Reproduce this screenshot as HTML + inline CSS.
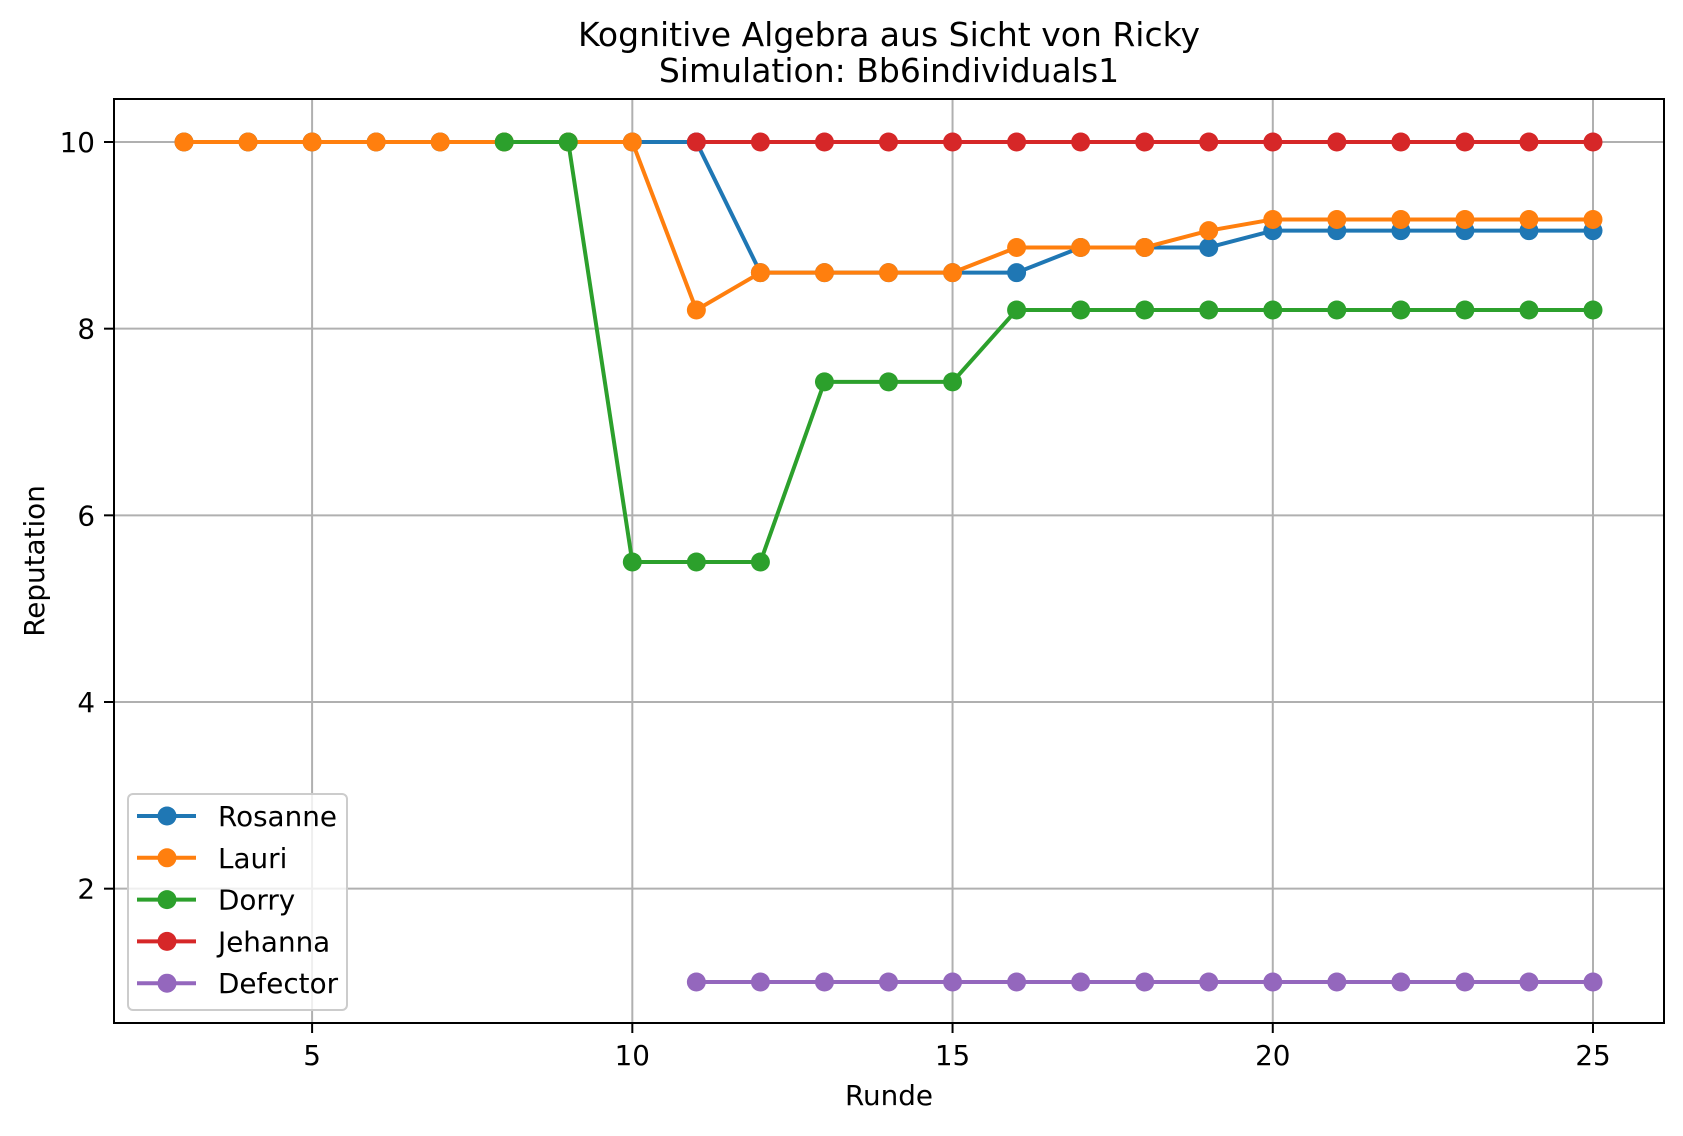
<!DOCTYPE html>
<html><head><meta charset="utf-8"><style>
html,body{margin:0;padding:0;background:#fff}
text{font-family:"DejaVu Sans","Liberation Sans",sans-serif}
</style></head><body>
<svg id="chart" width="1683" height="1131" xmlns="http://www.w3.org/2000/svg">
<rect width="1683" height="1131" fill="#fff"/>
<g id="grid"></g>
<g id="series"></g>
<rect x="114" y="99" width="1550" height="924" fill="none" stroke="#000" stroke-width="2"/>
<g id="ticks"></g>
<text x="889" y="46" font-size="33" text-anchor="middle">Kognitive Algebra aus Sicht von Ricky</text>
<text x="889" y="82" font-size="33" text-anchor="middle">Simulation: Bb6individuals1</text>
<text x="889" y="1105" font-size="27.8" text-anchor="middle">Runde</text>
<text x="44" y="561" font-size="27.8" text-anchor="middle" transform="rotate(-90 44 561)">Reputation</text>
<g id="legend"></g>
</svg>
<script>
const names = ["Rosanne","Lauri","Dorry","Jehanna","Defector"];
const colors = ["#1f77b4","#ff7f0e","#2ca02c","#d62728","#9467bd"];
const rosanneX = [3,4,5,6,7,8,9,10,11,12,13,14,15,16,17,18,19,20,21,22,23,24,25];
const rosanneY = [10,10,10,10,10,10,10,10,10,8.6,8.6,8.6,8.6,8.6,8.87,8.87,8.87,9.05,9.05,9.05,9.05,9.05,9.05];
const lauriX = [3,4,5,6,7,8,9,10,11,12,13,14,15,16,17,18,19,20,21,22,23,24,25];
const lauriY = [10,10,10,10,10,10,10,10,8.2,8.6,8.6,8.6,8.6,8.87,8.87,8.87,9.05,9.17,9.17,9.17,9.17,9.17,9.17];
const dorryX = [8,9,10,11,12,13,14,15,16,17,18,19,20,21,22,23,24,25];
const dorryY = [10,10,5.5,5.5,5.5,7.43,7.43,7.43,8.2,8.2,8.2,8.2,8.2,8.2,8.2,8.2,8.2,8.2];
const jehannaX = [11,12,13,14,15,16,17,18,19,20,21,22,23,24,25];
const jehannaY = [10,10,10,10,10,10,10,10,10,10,10,10,10,10,10];
const defectorX = [11,12,13,14,15,16,17,18,19,20,21,22,23,24,25];
const defectorY = [1,1,1,1,1,1,1,1,1,1,1,1,1,1,1];
const xTicks = [5,10,15,20,25];
const yTicks = [2,4,6,8,10];

const NS="http://www.w3.org/2000/svg";
const L=114,R=1664,T=99,B=1023;
function sx(v){return 184+(v-3)*(1593-184)/22;}
function sy(v){return 142+(10-v)*(982-142)/9;}
function mk(tag,attrs,parent){const e=document.createElementNS(NS,tag);for(const k in attrs)e.setAttribute(k,attrs[k]);parent.appendChild(e);return e;}
const grid=document.getElementById('grid'),ticks=document.getElementById('ticks'),ser=document.getElementById('series'),leg=document.getElementById('legend');
xTicks.forEach(t=>{
  const x=sx(t);
  const g=mk('line',{x1:x,x2:x,y1:T,y2:B,stroke:'#b0b0b0','stroke-width':2},grid);
  
  
  mk('line',{x1:x,x2:x,y1:B,y2:B+10,stroke:'#000','stroke-width':2},ticks);
  const tx=mk('text',{x:x,y:1065,'font-size':27.8,'text-anchor':'middle'},ticks);
  tx.textContent=t;
  
  
});
yTicks.forEach(t=>{
  const y=sy(t);
  const g=mk('line',{x1:L,x2:R,y1:y,y2:y,stroke:'#b0b0b0','stroke-width':2},grid);
  
  
  mk('line',{x1:L-10,x2:L,y1:y,y2:y,stroke:'#000','stroke-width':2},ticks);
  const tx=mk('text',{x:L-19,y:y+10,'font-size':27.8,'text-anchor':'end'},ticks);
  tx.textContent=t;
  
  
});
const xs=[rosanneX,lauriX,dorryX,jehannaX,defectorX];
const ys=[rosanneY,lauriY,dorryY,jehannaY,defectorY];
names.forEach((n,i)=>{
  const g=mk('g',{},ser);
  
  
  const pts=xs[i].map((x,j)=>sx(x)+','+sy(ys[i][j])).join(' ');
  mk('polyline',{points:pts,fill:'none',stroke:colors[i],'stroke-width':4,'stroke-linejoin':'round'},g);
  xs[i].forEach((x,j)=>{
    const c=mk('circle',{cx:sx(x),cy:sy(ys[i][j]),r:9.5,fill:colors[i]},g);
    
    
  });
});
const box=mk('rect',{x:128,y:794,width:219,height:216,rx:5,fill:'#fff','fill-opacity':0.8,stroke:'#cccccc','stroke-width':2},leg);


names.forEach((n,i)=>{
  const y=816+i*41.8;
  const g=mk('g',{},leg);
  
  
  mk('line',{x1:137,x2:196,y1:y,y2:y,stroke:colors[i],'stroke-width':4},g);
  mk('circle',{cx:167,cy:y,r:9.5,fill:colors[i]},g);
  const t=mk('text',{x:218,y:y+10,'font-size':27.8},g);
  t.textContent=n;
});
</script>
</body></html>
